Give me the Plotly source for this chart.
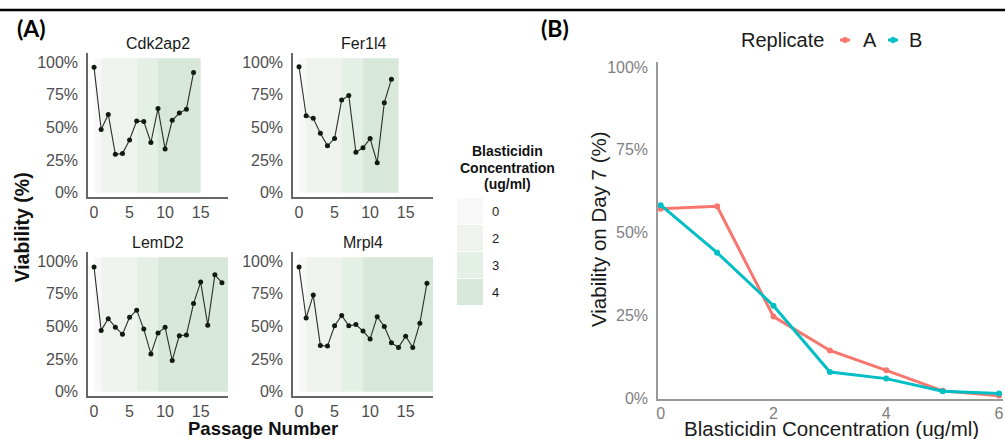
import plotly.graph_objects as go

W, H = 1005, 439

# ---------------- Data: Panel A ----------------
genes = ["Cdk2ap2", "Fer1l4", "LemD2", "Mrpl4"]

passage_cdk2ap2 = list(range(15))
viab_cdk2ap2 = [0.96, 0.485, 0.60, 0.295, 0.30, 0.405, 0.55, 0.545, 0.385, 0.645,
                0.335, 0.555, 0.61, 0.64, 0.92]
conc_cdk2ap2 = [0, 2, 2, 2, 2, 2, 3, 3, 3, 4, 4, 4, 4, 4, 4]

passage_fer1l4 = list(range(14))
viab_fer1l4 = [0.965, 0.59, 0.57, 0.455, 0.36, 0.415, 0.71, 0.745, 0.31, 0.345,
               0.415, 0.23, 0.69, 0.87]
conc_fer1l4 = [0, 2, 2, 2, 2, 2, 3, 3, 3, 4, 4, 4, 4, 4]

passage_lemd2 = list(range(19))
viab_lemd2 = [0.955, 0.47, 0.56, 0.495, 0.44, 0.57, 0.625, 0.48, 0.29, 0.45,
              0.495, 0.24, 0.43, 0.435, 0.675, 0.84, 0.51, 0.895, 0.835]
conc_lemd2 = [0, 2, 2, 2, 2, 2, 3, 3, 3, 4, 4, 4, 4, 4, 4, 4, 4, 4, 4]

passage_mrpl4 = list(range(19))
viab_mrpl4 = [0.955, 0.565, 0.74, 0.355, 0.35, 0.505, 0.585, 0.505, 0.515, 0.465,
              0.405, 0.575, 0.50, 0.375, 0.34, 0.425, 0.34, 0.525, 0.83]
conc_mrpl4 = [0, 2, 2, 2, 2, 2, 3, 3, 3, 4, 4, 4, 4, 4, 4, 4, 4, 4, 4]

conc_levels = [0, 2, 3, 4]
conc_colors = ["#f8f8f8", "#eff3ed", "#e4efe5", "#d7e7da"]

y_ticks_a = [0, 0.25, 0.5, 0.75, 1.0]
y_ticktext = ["0%", "25%", "50%", "75%", "100%"]
x_ticks_a = [0, 5, 10, 15]

# ---------------- Data: Panel B ----------------
bl_conc = [0, 1, 2, 3, 4, 5, 6]
replicates = ["A", "B"]
rep_a = [0.572, 0.58, 0.247, 0.145, 0.085, 0.023, 0.008]
rep_b = [0.583, 0.44, 0.28, 0.08, 0.06, 0.022, 0.015]
rep_colors = ["#F8766D", "#00BFC4"]
x_ticks_b = [0, 2, 4, 6]

FONT = "Liberation Sans, Arial, sans-serif"


def px(x):
    return x / W


def py(y):
    return 1 - y / H


fig = go.Figure()

panels = [
    (genes[0], passage_cdk2ap2, viab_cdk2ap2, conc_cdk2ap2, (88, 228), (53, 197)),
    (genes[1], passage_fer1l4, viab_fer1l4, conc_fer1l4, (293, 433), (53, 197)),
    (genes[2], passage_lemd2, viab_lemd2, conc_lemd2, (88, 228), (252, 396)),
    (genes[3], passage_mrpl4, viab_mrpl4, conc_mrpl4, (293, 433), (252, 396)),
]

shapes = []
annotations = []
layout_axes = {}

for i, (name, pas, via, conc, (x0, x1), (y0, y1)) in enumerate(panels, start=1):
    sfx = "" if i == 1 else str(i)
    xr, yr = "x" + sfx, "y" + sfx
    # background concentration bands (merge consecutive passages)
    start = pas[0]
    for k in range(1, len(pas) + 1):
        if k == len(pas) or conc[k] != conc[k - 1]:
            col = conc_colors[conc_levels.index(conc[k - 1])]
            shapes.append(dict(type="rect", xref=xr, yref=yr, x0=start, x1=pas[k - 1] + 1,
                               y0=0, y1=1.03, fillcolor=col, line=dict(width=0),
                               layer="below"))
            if k < len(pas):
                start = pas[k]
    fig.add_trace(go.Scatter(x=pas, y=via, mode="lines+markers", xaxis=xr, yaxis=yr,
                             line=dict(color="#2a2f2a", width=1.1),
                             marker=dict(color="#111a11", size=5),
                             showlegend=False))
    layout_axes["xaxis" + sfx] = dict(
        domain=[px(x0), px(x1)], range=[-0.85, 18.85], anchor=yr,
        showgrid=False, zeroline=False, showline=True, linecolor="#666", linewidth=1.5,
        tickmode="array", tickvals=x_ticks_a, ticks="", ticklabelstandoff=0,
        automargin=False,
        tickfont=dict(family=FONT, size=16, color="#4d4d4d"))
    layout_axes["yaxis" + sfx] = dict(
        domain=[py(y1), py(y0)], range=[-0.032, 1.07], anchor=xr,
        showgrid=False, zeroline=False, showline=True, linecolor="#666", linewidth=1.5,
        tickmode="array", tickvals=y_ticks_a, ticktext=y_ticktext, ticks="",
        ticklabelstandoff=5, automargin=False,
        tickfont=dict(family=FONT, size=16, color="#4d4d4d"))
    # facet strip title
    annotations.append(dict(text=name, xref="paper", yref="paper", x=px((x0 + x1) / 2),
                            y=py(y0 - 10), xanchor="center", yanchor="middle",
                            showarrow=False,
                            font=dict(family=FONT, size=16, color="#1a1a1a")))

# ---------------- Panel B ----------------
for rep, vals, col in zip(replicates, [rep_a, rep_b], rep_colors):
    fig.add_trace(go.Scatter(x=bl_conc, y=vals, mode="lines+markers", name=rep,
                             xaxis="x5", yaxis="y5",
                             line=dict(color=col, width=3),
                             marker=dict(color=col, size=6), showlegend=False))

layout_axes["xaxis5"] = dict(
    domain=[px(658), px(1003)], range=[-0.048, 6.07], anchor="y5",
    showgrid=False, zeroline=False, showline=True, linecolor="#999", linewidth=1.5,
    tickmode="array", tickvals=x_ticks_b, ticks="", ticklabelstandoff=0,
    automargin=False,
    tickfont=dict(family=FONT, size=16, color="#7f7f7f"))
layout_axes["yaxis5"] = dict(
    domain=[py(398.5), py(62)], range=[0, 1.015], anchor="x5",
    showgrid=False, zeroline=False, showline=True, linecolor="#999", linewidth=1.5,
    tickmode="array", tickvals=y_ticks_a, ticktext=y_ticktext, ticks="",
    ticklabelstandoff=5, automargin=False,
    tickfont=dict(family=FONT, size=16, color="#7f7f7f"))

# Panel B legend (ggplot-style short keys)
annotations.append(dict(text="Replicate", xref="paper", yref="paper", x=px(739), y=py(40),
                        xanchor="left", yanchor="middle", showarrow=False,
                        font=dict(family=FONT, size=20, color="#1a1a1a")))
for rep, col, kx, tx in zip(replicates, rep_colors, [845, 893], [861, 907]):
    shapes.append(dict(type="line", xref="paper", yref="paper", x0=px(kx - 5), x1=px(kx + 5),
                       y0=py(40), y1=py(40), line=dict(color=col, width=3)))
    shapes.append(dict(type="circle", xref="paper", yref="paper", x0=px(kx - 3), x1=px(kx + 3),
                       y0=py(43), y1=py(37), fillcolor=col, line=dict(width=0)))
    annotations.append(dict(text=rep, xref="paper", yref="paper", x=px(tx), y=py(40),
                            xanchor="left", yanchor="middle", showarrow=False,
                            font=dict(family=FONT, size=20, color="#1a1a1a")))

# ---------------- Decorations ----------------
# top rule
shapes.append(dict(type="line", xref="paper", yref="paper", x0=0, x1=1,
                   y0=py(10), y1=py(10), line=dict(color="black", width=2.5)))

# Panel A legend keys
key_tops = [198, 225, 252, 279]
for lvl, col, top in zip(conc_levels, conc_colors, key_tops):
    shapes.append(dict(type="rect", xref="paper", yref="paper", x0=px(457), x1=px(483),
                       y0=py(top + 26), y1=py(top), fillcolor=col, line=dict(width=0)))
    annotations.append(dict(text=str(lvl), xref="paper", yref="paper", x=px(490),
                            y=py(top + 13), xanchor="left", yanchor="middle",
                            showarrow=False,
                            font=dict(family=FONT, size=13, color="#1a1a1a")))
for txt, yy in zip(["Blasticidin", "Concentration", "(ug/ml)"], [151.5, 167.5, 183.5]):
    annotations.append(dict(text="<b>" + txt + "</b>", xref="paper", yref="paper",
                            x=px(507), y=py(yy), xanchor="center", yanchor="middle",
                            showarrow=False,
                            font=dict(family=FONT, size=14, color="#111")))

# panel labels
annotations.append(dict(text="<b>(A)</b>", xref="paper", yref="paper", x=px(15), y=py(28),
                        xanchor="left", yanchor="middle", showarrow=False,
                        font=dict(family="Lato, Open Sans, sans-serif", size=23, color="black")))
annotations.append(dict(text="<b>(B)</b>", xref="paper", yref="paper", x=px(539), y=py(28),
                        xanchor="left", yanchor="middle", showarrow=False,
                        font=dict(family="Lato, Open Sans, sans-serif", size=23, color="black")))

# axis titles panel A
annotations.append(dict(text="<b>Viability (%)</b>", xref="paper", yref="paper",
                        x=px(21.5), y=py(228), xanchor="center", yanchor="middle",
                        textangle=-90, showarrow=False,
                        font=dict(family=FONT, size=19.5, color="#111")))
annotations.append(dict(text="<b>Passage Number</b>", xref="paper", yref="paper",
                        x=px(263), y=py(428.5), xanchor="center", yanchor="middle",
                        showarrow=False,
                        font=dict(family=FONT, size=18.5, color="#111")))
# axis titles panel B
annotations.append(dict(text="Viability on Day 7 (%)", xref="paper", yref="paper",
                        x=px(598), y=py(229), xanchor="center", yanchor="middle",
                        textangle=-90, showarrow=False,
                        font=dict(family=FONT, size=20.5, color="#1a1a1a")))
annotations.append(dict(text="Blasticidin Concentration (ug/ml)", xref="paper", yref="paper",
                        x=px(831), y=py(428.5), xanchor="center", yanchor="middle",
                        showarrow=False,
                        font=dict(family=FONT, size=20.5, color="#1a1a1a")))

fig.update_layout(
    width=W, height=H, autosize=False,
    margin=dict(l=0, r=0, t=0, b=0, pad=0, autoexpand=False),
    paper_bgcolor="white", plot_bgcolor="white",
    shapes=shapes, annotations=annotations,
    showlegend=False,
    **layout_axes,
)

fig.write_html(
    "out.html",
    config={"displayModeBar": False},
    post_script=(
        "var d=document.documentElement.style;d.margin='0';d.padding='0';"
        "d.overflow='hidden';"
        "var b=document.body.style;b.margin='0';b.padding='0';b.overflow='hidden';"
    ),
)
